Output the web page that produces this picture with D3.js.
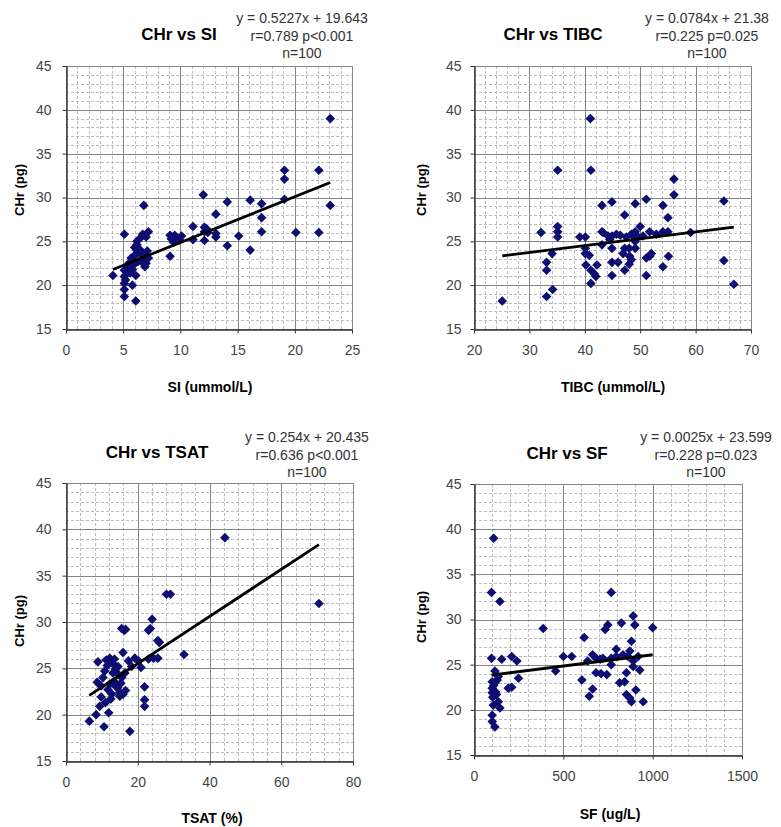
<!DOCTYPE html>
<html><head><meta charset="utf-8">
<script src="https://cdn.jsdelivr.net/npm/d3@7"></script>
<style>body{margin:0;background:#fff}svg{display:block}</style>
</head><body>
<svg id="c" width="781" height="827"></svg>
<script>
// ---- Data ----
const siX = [4.1,5.1,5.1,5.1,5.1,5.1,5.1,6.1,5.8,6.1,6.8,6.2,6.2,6.2,6.0,5.7,5.5,5.4,5.3,6.5,6.7,6.8,7.0,6.9,7.2,7.0,6.7,6.3,6.6,7.2,9.1,9.1,9.2,9.5,9.7,10.1,9.9,11.1,11.1,12.0,12.1,12.1,12.1,12.3,13.1,13.1,13.1,14.1,14.1,15.1,16.1,16.1,17.1,17.1,17.1,19.1,19.1,19.1,20.1,22.1,22.1,23.1,23.1,5.6,5.9,6.4,6.0,5.2,6.6,7.1,5.8,9.4,12.4];
const siY = [21.1,25.8,21.7,21.0,20.2,19.5,18.7,18.2,20.0,21.1,29.1,25.0,24.6,24.0,23.4,23.1,22.5,22.1,21.7,24.0,23.4,22.9,22.5,22.1,26.1,25.5,25.8,22.7,22.7,23.1,23.3,25.7,25.3,25.7,25.3,25.6,25.2,26.7,25.2,30.3,26.6,26.1,25.1,26.4,28.1,25.9,25.5,29.5,24.5,25.6,29.7,24.0,29.3,27.7,26.1,33.1,32.1,29.8,26.0,33.1,26.0,29.1,39.0,21.4,22.3,23.7,24.3,20.6,25.5,23.9,21.8,24.9,26.0];

const tibcX = [25.1,32.1,33.1,33.1,33.1,34.2,34.1,35.1,35.1,35.1,35.1,39.1,40.1,40.1,40.1,40.2,40.8,41.1,41.1,41.1,41.7,42.0,42.2,43.1,43.1,43.1,44.9,44.9,44.9,44.9,44.9,46.0,47.2,47.2,47.2,48.0,48.0,48.1,49.1,49.1,49.1,49.1,50.0,51.1,51.1,51.1,52.0,54.1,54.1,55.0,55.1,56.1,56.1,59.1,65.1,65.1,66.9,41.0,43.3,44.2,45.7,46.4,47.5,48.4,49.6,50.5,51.7,52.9,54.1,55.0,44.5,49.0,46.9,48.4,51.7];
const tibcY = [18.2,26.0,22.6,21.7,18.7,19.5,23.6,33.1,26.7,26.1,25.5,25.5,25.5,24.2,23.6,22.3,23.4,33.1,21.7,20.2,21.3,21.0,22.3,29.1,26.1,24.6,29.5,25.6,24.2,22.6,21.1,22.6,28.0,21.7,24.2,24.2,22.4,23.3,29.3,26.1,25.0,24.2,26.7,29.8,23.1,21.1,23.6,29.1,22.1,27.7,23.3,32.1,30.3,26.0,29.6,22.8,20.1,39.0,26.0,25.6,25.8,25.7,25.5,25.8,25.5,25.6,26.1,25.8,26.1,26.1,25.2,25.2,23.6,22.9,23.3];

const tsatX = [70.5,44.3,28.0,29.1,32.9,24.0,23.5,23.0,25.6,26.0,25.6,24.4,23.0,15.5,16.2,16.6,15.9,19.2,20.2,20.9,21.9,21.9,21.9,6.5,8.4,9.4,9.8,10.6,11.9,17.8,12.5,8.7,9.8,8.9,11.2,12.2,13.1,13.8,14.5,15.5,13.4,12.2,11.7,14.4,15.0,15.9,16.6,15.0,10.8,10.3,13.1,14.5,16.4,18.3,17.4,12.7,11.5,13.5,14.0,12.8,15.3,11.0];
const tsatY = [32.0,39.1,33.0,33.0,26.5,30.3,29.3,29.1,28.0,27.8,26.1,26.1,26.0,29.3,29.1,29.2,26.7,26.1,25.8,25.1,23.0,21.6,20.9,19.3,20.0,20.9,21.9,18.7,20.2,18.2,21.7,23.5,23.1,25.7,25.9,26.1,25.5,24.9,24.4,24.0,23.6,23.3,22.7,22.9,22.4,22.2,22.6,22.0,24.7,24.0,24.5,25.2,24.5,25.2,25.8,25.6,25.3,26.0,23.0,22.2,23.4,21.3];

const sfX = [110,98,145,98,155,117,136,102,117,102,102,126,136,145,102,102,117,211,240,249,192,211,387,457,500,547,604,617,645,664,636,683,706,664,711,734,749,743,768,768,768,796,825,815,843,853,872,881,891,900,881,872,862,891,891,919,928,947,906,1000,796,834,853,683,721,110,120,108,130,105];
const sfY = [39.0,33.0,32.0,25.7,25.6,24.3,23.7,23.1,23.0,22.4,21.9,21.7,20.9,20.2,19.4,18.7,18.1,25.9,25.4,23.5,22.4,22.5,29.0,24.3,25.9,25.9,23.3,28.0,21.5,26.1,25.4,25.7,25.6,22.3,24.0,28.9,29.4,23.9,33.0,25.7,25.0,26.7,29.6,23.0,23.1,21.7,21.3,20.9,30.4,29.4,27.6,26.5,25.9,25.4,24.8,25.9,24.4,20.9,22.2,29.1,25.9,26.1,24.1,24.1,25.7,22.7,22.0,20.5,23.3,21.4];

const yTicks = [15,20,25,30,35,40,45];
const siTicks = [0,5,10,15,20,25];
const tibcTicks = [20,30,40,50,60,70];
const tsatTicks = [0,20,40,60,80];
const sfTicks = [0,500,1000,1500];

const titles = ["CHr vs SI","CHr vs TIBC","CHr vs TSAT","CHr vs SF"];
const xLabels = ["SI (ummol/L)","TIBC (ummol/L)","TSAT (%)","SF (ug/L)"];
const yLabel = "CHr (pg)";
const eqLines = [
  ["y = 0.5227x + 19.643","r=0.789 p<0.001","n=100"],
  ["y = 0.0784x + 21.38","r=0.225 p=0.025","n=100"],
  ["y = 0.254x + 20.435","r=0.636 p<0.001","n=100"],
  ["y = 0.0025x + 23.599","r=0.228 p=0.023","n=100"]
];
const slopes = [0.5227,0.0784,0.254,0.0025];
const intercepts = [19.643,21.38,20.435,23.599];

// ---- Layout ----
const layout = [
  {x0:66,x1:352,y0:66,y1:329,minor:1,titleX:179,titleY:40,eqX:302,eqY:23,labX:210,labY:392,ylX:24,ylY:190,tickGap:15},
  {x0:474,x1:751,y0:66,y1:329,minor:2,titleX:553,titleY:40,eqX:707,eqY:23,labX:613,labY:392,ylX:426,ylY:190,tickGap:13},
  {x0:66,x1:353,y0:483,y1:761,minor:4,titleX:157,titleY:458,eqX:307,eqY:442,labX:212,labY:823,ylX:24,ylY:621,tickGap:15},
  {x0:474,x1:742,y0:484,y1:755,minor:100,titleX:567,titleY:459,eqX:706,eqY:442,labX:610,labY:819,ylX:426,ylY:617,tickGap:13}
];
const xs = [siX,tibcX,tsatX,sfX], ys=[siY,tibcY,tsatY,sfY];
const xTickSets = [siTicks,tibcTicks,tsatTicks,sfTicks];

const svg = d3.select("#c");
const font = "'Liberation Sans', Arial, sans-serif";

layout.forEach((L,i)=>{
  const xt = xTickSets[i];
  const x = d3.scaleLinear().domain([xt[0], xt[xt.length-1]]).range([L.x0, L.x1]);
  const y = d3.scaleLinear().domain([yTicks[0], yTicks[yTicks.length-1]]).range([L.y1, L.y0]);
  const g = svg.append("g");

  // minor grid
  const majorStepX = xt[1]-xt[0];
  const minorX = d3.range(xt[0], xt[xt.length-1]+1e-9, L.minor).filter(v=>Math.abs(v/majorStepX - Math.round(v/majorStepX))>1e-6);
  const minorY = d3.range(15,45.0001,1).filter(v=>v%5!==0);
  g.selectAll(".mx").data(minorX).join("line")
    .attr("x1",d=>Math.round(x(d))+0.5).attr("x2",d=>Math.round(x(d))+0.5)
    .attr("y1",L.y0).attr("y2",L.y1)
    .attr("stroke","#bdbdbd").attr("stroke-dasharray","3,2");
  g.selectAll(".my").data(minorY).join("line")
    .attr("y1",d=>Math.round(y(d))+0.5).attr("y2",d=>Math.round(y(d))+0.5)
    .attr("x1",L.x0).attr("x2",L.x1)
    .attr("stroke","#bdbdbd").attr("stroke-dasharray","3,2");
  // major grid
  g.selectAll(".Mx").data(xt).join("line")
    .attr("x1",d=>Math.round(x(d))+0.5).attr("x2",d=>Math.round(x(d))+0.5)
    .attr("y1",L.y0).attr("y2",L.y1).attr("stroke","#858585");
  g.selectAll(".My").data(yTicks).join("line")
    .attr("y1",d=>Math.round(y(d))+0.5).attr("y2",d=>Math.round(y(d))+0.5)
    .attr("x1",L.x0).attr("x2",L.x1).attr("stroke","#858585");

  // axes
  const ax = g.append("g").attr("transform",`translate(0,${Math.round(L.y1)+0.5})`)
    .call(d3.axisBottom(x).tickValues(xt).tickSize(4).tickSizeOuter(0).tickPadding(12).tickFormat(d3.format("d")));
  const ay = g.append("g").attr("transform",`translate(${Math.round(L.x0)+0.5},0)`)
    .call(d3.axisLeft(y).tickValues(yTicks).tickSize(4).tickSizeOuter(0).tickPadding(L.tickGap-4).tickFormat(d3.format("d")));
  [ax,ay].forEach(a=>{
    a.select(".domain").attr("stroke","#333").attr("stroke-width",1.4);
    a.selectAll(".tick line").attr("stroke","#333");
    a.selectAll(".tick text").attr("fill","#444").style("font-family",font).style("font-size","14px");
  });

  // points
  const pts = xs[i].map((v,k)=>[v, ys[i][k]]);
  const r = 4.8;
  g.selectAll(".pt").data(pts).join("path")
    .attr("d",`M0,${-r}L${r},0L0,${r}L${-r},0Z`)
    .attr("transform",d=>`translate(${x(d[0])},${y(d[1])})`)
    .attr("fill","#0e0e72");

  // regression line
  const ex = d3.extent(xs[i]);
  g.append("line")
    .attr("x1",x(ex[0])).attr("y1",y(slopes[i]*ex[0]+intercepts[i]))
    .attr("x2",x(ex[1])).attr("y2",y(slopes[i]*ex[1]+intercepts[i]))
    .attr("stroke","#000").attr("stroke-width",2.8);

  // texts
  g.append("text").attr("x",L.titleX).attr("y",L.titleY).attr("text-anchor","middle")
    .style("font-family",font).style("font-weight","bold").style("font-size","17px").text(titles[i]);
  eqLines[i].forEach((t,k)=>{
    g.append("text").attr("x",L.eqX).attr("y",L.eqY+k*17.5).attr("text-anchor","middle")
      .attr("fill","#333").style("font-family",font).style("font-size","14px").text(t);
  });
  g.append("text").attr("x",L.labX).attr("y",L.labY).attr("text-anchor","middle")
    .style("font-family",font).style("font-weight","bold").style("font-size","14px").text(xLabels[i]);
  g.append("text").attr("transform",`translate(${L.ylX},${L.ylY}) rotate(-90)`).attr("text-anchor","middle")
    .style("font-family",font).style("font-weight","bold").style("font-size","13px").text(yLabel);
});
</script>
</body></html>
